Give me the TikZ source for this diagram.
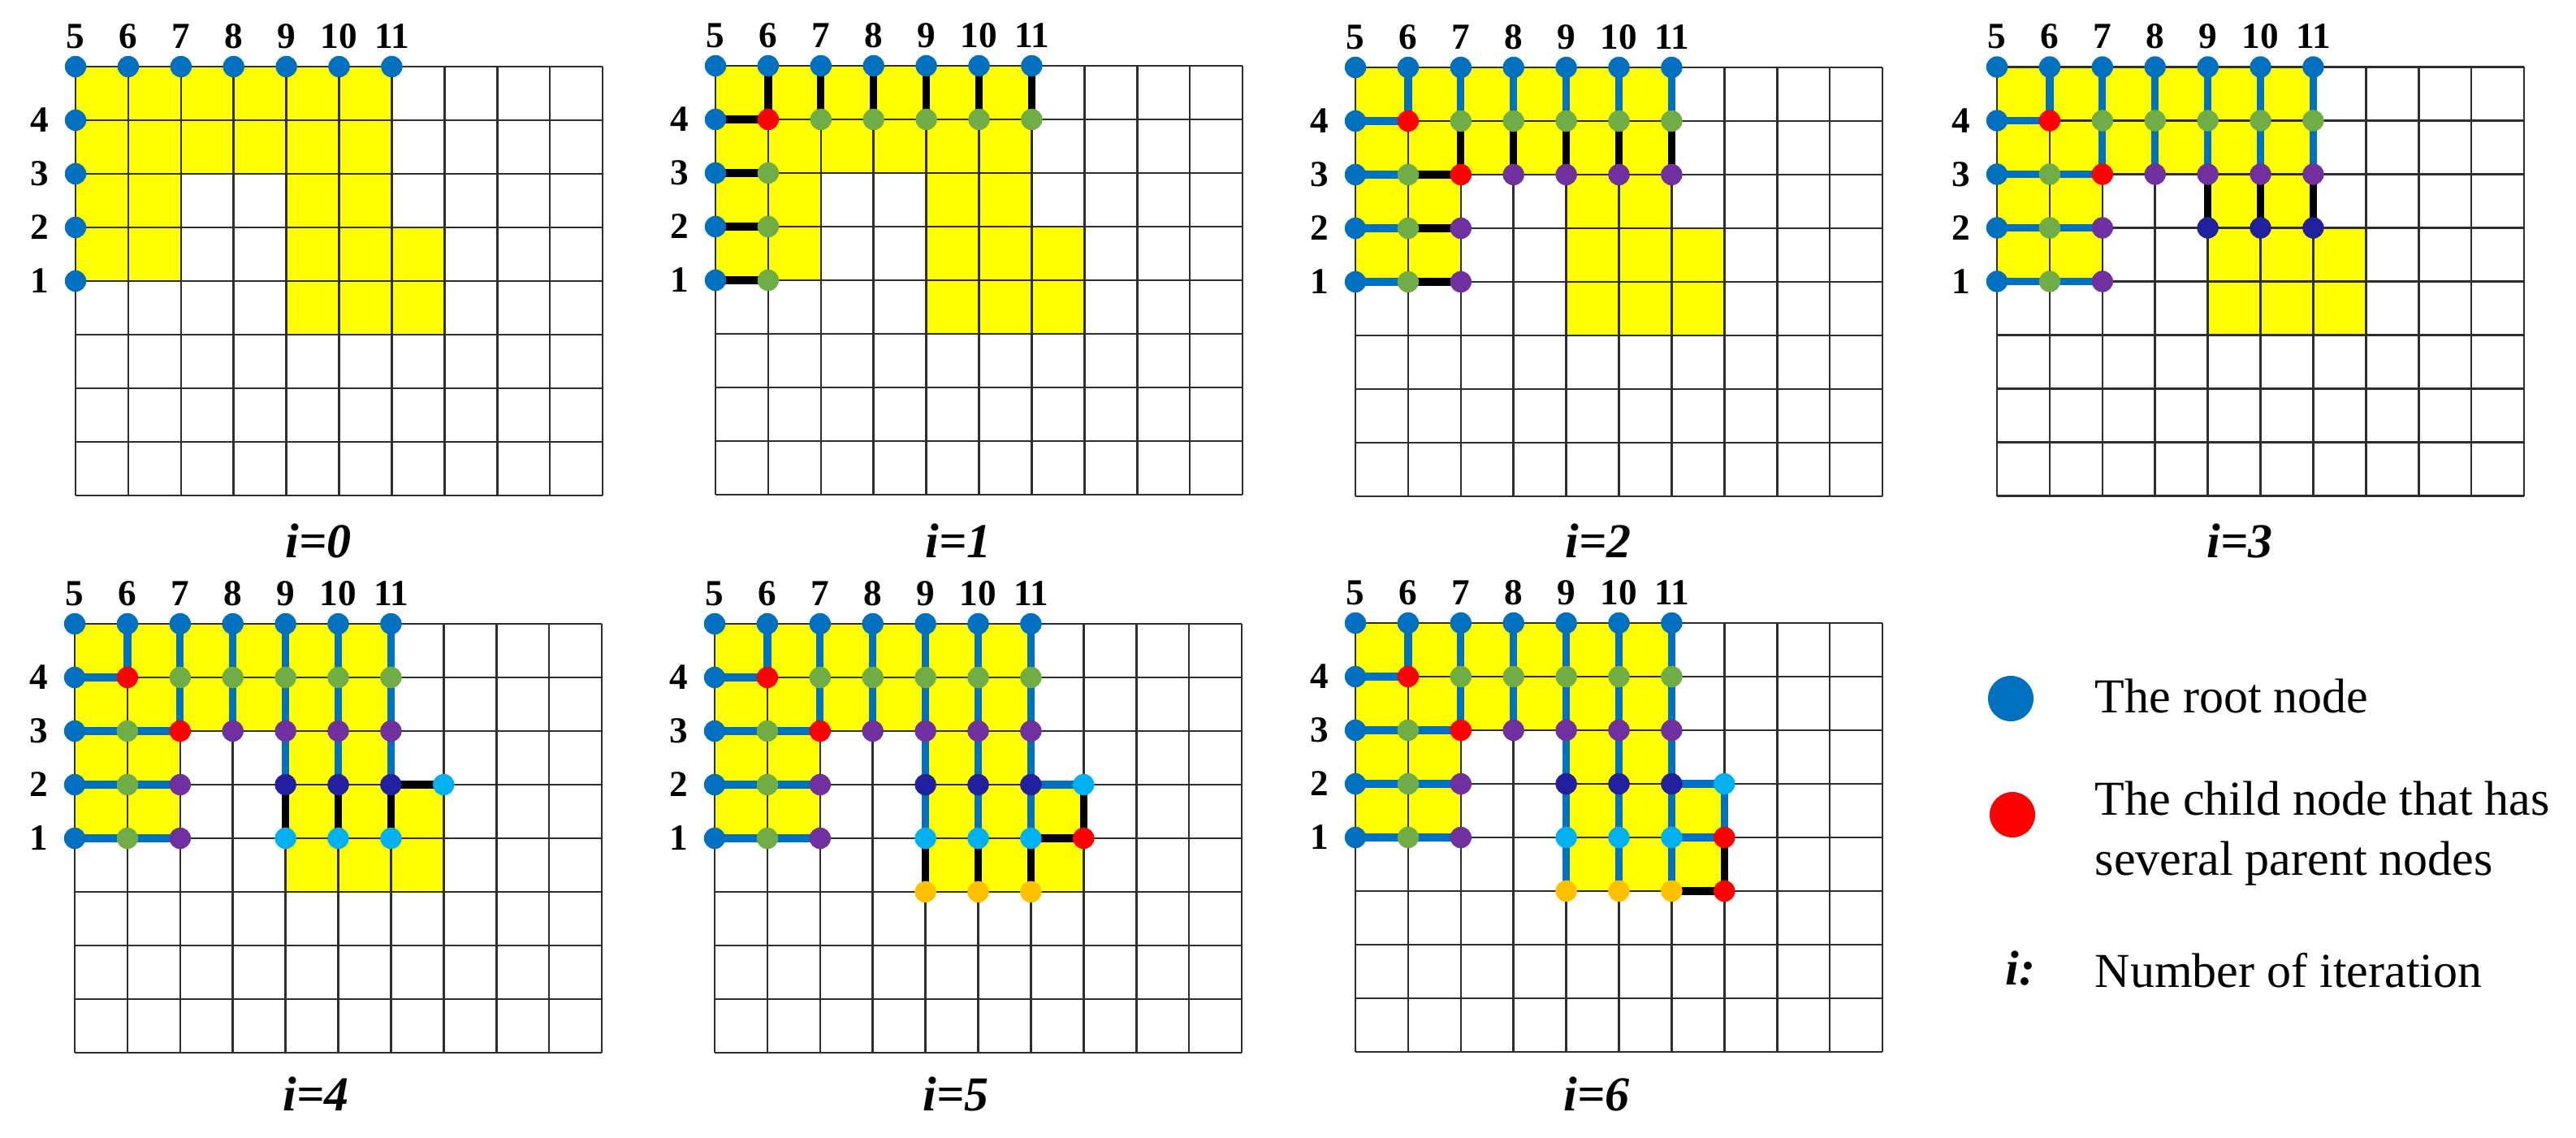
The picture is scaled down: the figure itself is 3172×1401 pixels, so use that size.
\documentclass[tikz,border=0pt]{standalone}
\usepackage{fontspec}
\setmainfont{Liberation Serif}
\definecolor{rootblue}{RGB}{0,112,192}
\definecolor{kidred}{RGB}{255,0,0}
\definecolor{kidgreen}{RGB}{112,173,71}
\definecolor{kidpurple}{RGB}{112,48,160}
\definecolor{kidnavy}{RGB}{32,32,160}
\definecolor{kidcyan}{RGB}{0,176,240}
\definecolor{kidorange}{RGB}{255,192,0}
\definecolor{cellyellow}{RGB}{255,255,0}

\newcommand{\cellw}{64.9}
\newcommand{\cellh}{66}

\tikzset{
  gridl/.style={draw=black!82, line width=0.65pt},
  gdot/.style={circle, inner sep=0pt, minimum size=6.6pt, fill=#1, draw=none},
  bedge/.style={line width=2.3pt, draw=rootblue},
  kedge/.style={line width=2.3pt, draw=black},
  collab/.style={font=\fontsize{11.3}{13}\selectfont\bfseries, anchor=base, inner sep=0pt},
  rowlab/.style={font=\fontsize{11.3}{13}\selectfont\bfseries, anchor=center, inner sep=0pt},
  ititle/.style={font=\fontsize{15}{18}\selectfont\bfseries\itshape, anchor=base, inner sep=0pt},
  legtext/.style={font=\fontsize{15}{18}\selectfont, anchor=base west, inner sep=0pt},
}

% panel: #1 id, #2 left x, #3 top y
\newcommand{\gridpanel}[3]{%
  \fill[cellyellow] ({#2},{#3}) -- ({#2+6*\cellw},{#3}) -- ({#2+6*\cellw},{#3+3*\cellh})
    -- ({#2+7*\cellw},{#3+3*\cellh}) -- ({#2+7*\cellw},{#3+5*\cellh}) -- ({#2+4*\cellw},{#3+5*\cellh})
    -- ({#2+4*\cellw},{#3+2*\cellh}) -- ({#2+2*\cellw},{#3+2*\cellh}) -- ({#2+2*\cellw},{#3+4*\cellh})
    -- ({#2},{#3+4*\cellh}) -- cycle;
  \foreach \ci in {0,...,10} {\draw[gridl] ({#2+\ci*\cellw},{#3}) -- ({#2+\ci*\cellw},{#3+8*\cellh});}
  \foreach \ri in {0,...,8} {\draw[gridl] ({#2},{#3+\ri*\cellh}) -- ({#2+10*\cellw},{#3+\ri*\cellh});}
  \foreach \ci in {0,...,10} {\foreach \ri in {0,...,8} {\coordinate (p#1c\ci r\ri) at ({#2+\ci*\cellw},{#3+\ri*\cellh});}}
  \foreach \ci/\lab in {0/5,1/6,2/7,3/8,4/9,5/10,6/11} {\node[collab] (p#1top\ci) at ({#2+\ci*\cellw},{#3-22.5}) {\lab};}
  \foreach \ri/\lab in {1/4,2/3,3/2,4/1} {\node[rowlab] (p#1left\ri) at ({#2-44.4},{#3+\ri*\cellh}) {\lab};}
}
\newcommand{\putdots}[3]{\foreach \ci/\ri in #3 {\node[gdot=#2] (p#1d\ci-\ri) at (p#1c\ci r\ri) {};}}
\newcommand{\putedges}[3]{\foreach \ea/\eb/\ec/\ed in #3 {\draw[#2] (p#1c\ea r\eb) -- (p#1c\ec r\ed);}}

\def\EA{1/0/1/1,2/0/2/1,3/0/3/1,4/0/4/1,5/0/5/1,6/0/6/1,0/1/1/1,0/2/1/2,0/3/1/3,0/4/1/4}
\def\EB{2/1/2/2,3/1/3/2,4/1/4/2,5/1/5/2,6/1/6/2,1/2/2/2,1/3/2/3,1/4/2/4}
\def\EC{4/2/4/3,5/2/5/3,6/2/6/3}
\def\ED{4/3/4/4,5/3/5/4,6/3/6/4,6/3/7/3}
\def\EE{4/4/4/5,5/4/5/5,6/4/6/5,7/3/7/4,6/4/7/4}
\def\EF{7/4/7/5,6/5/7/5}

\def\NR{0/0,1/0,2/0,3/0,4/0,5/0,6/0,0/1,0/2,0/3,0/4}
\def\NAr{1/1}
\def\NAg{2/1,3/1,4/1,5/1,6/1,1/2,1/3,1/4}
\def\NBr{2/2}
\def\NBp{3/2,4/2,5/2,6/2,2/3,2/4}
\def\NCn{4/3,5/3,6/3}
\def\NDc{4/4,5/4,6/4,7/3}
\def\NEo{4/5,5/5,6/5}
\def\NEr{7/4}
\def\NFr{7/5}

\begin{document}
\begin{tikzpicture}[x=0.25pt,y=-0.25pt]
\useasboundingbox (0,0) rectangle (3172,1401);

% i=0
\gridpanel{0}{93}{82}
\putdots{0}{rootblue}{\NR}
\node[ititle] (t0) at (392,686) {i=0};

% i=1
\gridpanel{1}{881}{81}
\putedges{1}{kedge}{\EA}
\putdots{1}{rootblue}{\NR}
\putdots{1}{kidred}{\NAr}
\putdots{1}{kidgreen}{\NAg}
\node[ititle] (t1) at (1180,686) {i=1};

% i=2
\gridpanel{2}{1669}{83}
\putedges{2}{bedge}{\EA}
\putedges{2}{kedge}{\EB}
\putdots{2}{rootblue}{\NR}
\putdots{2}{kidred}{\NAr}
\putdots{2}{kidgreen}{\NAg}
\putdots{2}{kidred}{\NBr}
\putdots{2}{kidpurple}{\NBp}
\node[ititle] (t2) at (1968,686) {i=2};

% i=3
\gridpanel{3}{2459}{82.5}
\putedges{3}{bedge}{\EA}
\putedges{3}{bedge}{\EB}
\putedges{3}{kedge}{\EC}
\putdots{3}{rootblue}{\NR}
\putdots{3}{kidred}{\NAr}
\putdots{3}{kidgreen}{\NAg}
\putdots{3}{kidred}{\NBr}
\putdots{3}{kidpurple}{\NBp}
\putdots{3}{kidnavy}{\NCn}
\node[ititle] (t3) at (2758,686) {i=3};

% i=4
\gridpanel{4}{92}{768}
\putedges{4}{bedge}{\EA}
\putedges{4}{bedge}{\EB}
\putedges{4}{bedge}{\EC}
\putedges{4}{kedge}{\ED}
\putdots{4}{rootblue}{\NR}
\putdots{4}{kidred}{\NAr}
\putdots{4}{kidgreen}{\NAg}
\putdots{4}{kidred}{\NBr}
\putdots{4}{kidpurple}{\NBp}
\putdots{4}{kidnavy}{\NCn}
\putdots{4}{kidcyan}{\NDc}
\node[ititle] (t4) at (389,1367) {i=4};

% i=5
\gridpanel{5}{880}{768}
\putedges{5}{bedge}{\EA}
\putedges{5}{bedge}{\EB}
\putedges{5}{bedge}{\EC}
\putedges{5}{bedge}{\ED}
\putedges{5}{kedge}{\EE}
\putdots{5}{rootblue}{\NR}
\putdots{5}{kidred}{\NAr}
\putdots{5}{kidgreen}{\NAg}
\putdots{5}{kidred}{\NBr}
\putdots{5}{kidpurple}{\NBp}
\putdots{5}{kidnavy}{\NCn}
\putdots{5}{kidcyan}{\NDc}
\putdots{5}{kidorange}{\NEo}
\putdots{5}{kidred}{\NEr}
\node[ititle] (t5) at (1177,1367) {i=5};

% i=6
\gridpanel{6}{1669}{767}
\putedges{6}{bedge}{\EA}
\putedges{6}{bedge}{\EB}
\putedges{6}{bedge}{\EC}
\putedges{6}{bedge}{\ED}
\putedges{6}{bedge}{\EE}
\putedges{6}{kedge}{\EF}
\putdots{6}{rootblue}{\NR}
\putdots{6}{kidred}{\NAr}
\putdots{6}{kidgreen}{\NAg}
\putdots{6}{kidred}{\NBr}
\putdots{6}{kidpurple}{\NBp}
\putdots{6}{kidnavy}{\NCn}
\putdots{6}{kidcyan}{\NDc}
\putdots{6}{kidorange}{\NEo}
\putdots{6}{kidred}{\NEr}
\putdots{6}{kidred}{\NFr}
\node[ititle] (t6) at (1966,1367) {i=6};

% legend
\node[gdot=rootblue, minimum size=14pt] (legroot) at (2476,860) {};
\node[gdot=kidred, minimum size=14pt] (legchild) at (2478,1003) {};
\node[legtext] (legrootT) at (2579,877) {The root node};
\node[legtext] (legchildT1) at (2579,1003) {The child node that has};
\node[legtext] (legchildT2) at (2579,1077) {several parent nodes};
\node[ititle] (legi) at (2488,1212) {i:};
\node[legtext] (legiT) at (2579,1215) {Number of iteration};
\end{tikzpicture}
\end{document}
